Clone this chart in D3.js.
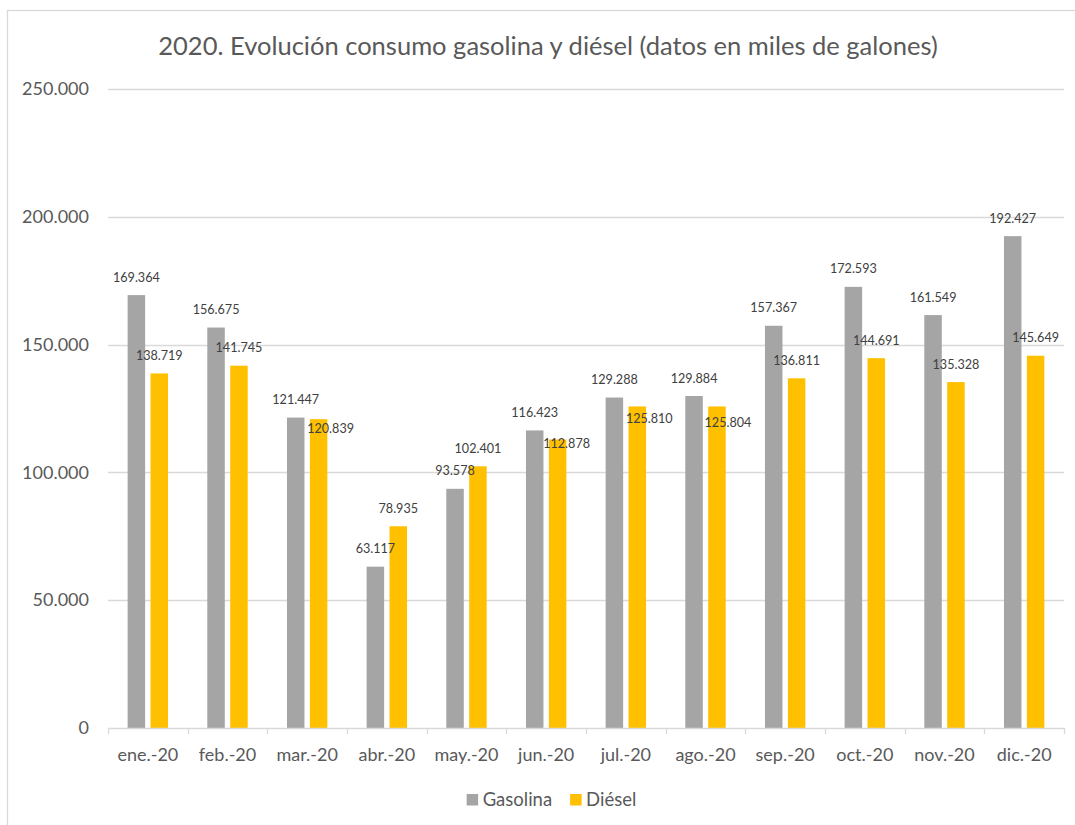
<!DOCTYPE html>
<html>
<head>
<meta charset="utf-8">
<script src="https://cdn.jsdelivr.net/npm/d3@7"></script>
<style>
  html, body { margin: 0; padding: 0; background: #fff; }
  svg { display: block; }
  text { font-family: Lato, "Noto Sans", sans-serif; }
</style>
</head>
<body>
<svg id="chart" width="1075" height="825"></svg>
<script>
// ---- data ----
const titleText = "2020. Evolución consumo gasolina y diésel (datos en miles de galones)";
const months = ["ene.-20","feb.-20","mar.-20","abr.-20","may.-20","jun.-20","jul.-20","ago.-20","sep.-20","oct.-20","nov.-20","dic.-20"];
const seriesNames = ["Gasolina", "Diésel"];
const gasolina = [169364,156675,121447,63117,93578,116423,129288,129884,157367,172593,161549,192427];
const diesel   = [138719,141745,120839,78935,102401,112878,125810,125804,136811,144691,135328,145649];
const yTicks = [0, 50000, 100000, 150000, 200000, 250000];
// label nudges (px) for Diesel data labels that Excel moved
const dieselLabelNudge = [[0,0],[0,0],[12,27],[0,0],[0,0],[9,22],[12,30],[11,34],[0,0],[0,0],[0,0],[0,0]];

const colors = {"Gasolina": "#A5A5A5", "Diésel": "#FFC000"};

const loc = d3.formatLocale({decimal: ",", thousands: ".", grouping: [3], currency: ["", ""]});
const fmt = loc.format(",.0f");

const svg = d3.select("#chart");

// chart border
svg.append("rect").attr("x", 7.5).attr("y", 10.5).attr("width", 1100).attr("height", 900)
  .attr("fill", "#fff").attr("stroke", "#D9D9D9").attr("stroke-width", 1.3);

const plotL = 108, plotR = 1064, plotT = 89, plotB = 728;

const x0 = d3.scaleBand().domain(months).range([plotL, plotR]).paddingInner(0).paddingOuter(0);
const x1 = d3.scaleBand().domain(seriesNames).range([0, x0.bandwidth()]).paddingInner(0.236).paddingOuter(0.857);
const y = d3.scaleLinear().domain([0, 250000]).range([plotB, plotT]);

// gridlines
svg.append("g").selectAll("line").data(yTicks.filter(d => d > 0)).join("line")
  .attr("x1", plotL).attr("x2", plotR)
  .attr("y1", d => Math.round(y(d)) + 0.5).attr("y2", d => Math.round(y(d)) + 0.5)
  .attr("stroke", "#D9D9D9").attr("stroke-width", 1.3);

// y axis labels
const yAxis = d3.axisLeft(y).tickValues(yTicks).tickFormat(fmt).tickSize(0).tickPadding(19);
const gy = svg.append("g").attr("transform", `translate(${plotL},0)`).call(yAxis);
gy.select(".domain").remove();
gy.selectAll("text").attr("fill", "#595959").style("font-size", "18px").attr("font-family", "Lato");

// bars
const data = months.map((m, i) => ({month: m, values: [
  {key: "Gasolina", value: gasolina[i], i},
  {key: "Diésel", value: diesel[i], i}
]}));

const groups = svg.append("g").selectAll("g").data(data).join("g")
  .attr("transform", d => `translate(${x0(d.month)},0)`);

groups.selectAll("rect").data(d => d.values).join("rect")
  .attr("x", d => x1(d.key))
  .attr("width", x1.bandwidth())
  .attr("y", d => y(d.value))
  .attr("height", d => y(0) - y(d.value))
  .attr("fill", d => colors[d.key]);

// x axis
const xAxis = d3.axisBottom(x0).tickSize(0).tickPadding(20);
const gx = svg.append("g").attr("transform", `translate(0,${plotB})`).call(xAxis);
gx.select(".domain").attr("stroke", "#D9D9D9").attr("stroke-width", 1.3).attr("d", `M${plotL},0.5H${plotR}`);
gx.selectAll("text").attr("fill", "#595959").style("font-size", "18px").attr("font-family", "Lato");
// category boundary ticks
gx.append("g").selectAll("line").data(months.concat(["__end"])).join("line")
  .attr("x1", (d, i) => Math.round(plotL + i * x0.step()) + 0.5)
  .attr("x2", (d, i) => Math.round(plotL + i * x0.step()) + 0.5)
  .attr("y1", 0).attr("y2", 6)
  .attr("stroke", "#D9D9D9").attr("stroke-width", 1.3);
gx.selectAll(".tick text").attr("dy", "0.72em");

// data labels
groups.selectAll("text.lbl").data(d => d.values).join("text")
  .attr("class", "lbl")
  .attr("x", d => x1(d.key) + x1.bandwidth() / 2 + (d.key === "Diésel" ? dieselLabelNudge[d.i][0] : 0))
  .attr("y", d => y(d.value) - 13.5 + (d.key === "Diésel" ? dieselLabelNudge[d.i][1] : 0))
  .attr("text-anchor", "middle")
  .attr("fill", "#404040")
  .style("font-size", "12.6px")
  .text(d => fmt(d.value));

// title (fit to measured width)
const title = svg.append("text").attr("x", 548).attr("y", 55).attr("text-anchor", "middle")
  .attr("fill", "#595959").style("font-size", "24px").text(titleText);
const tw = title.node().getComputedTextLength();
title.style("font-size", (24 * 780 / tw).toFixed(2) + "px");

// legend
const legend = svg.append("g");
let cx = 0;
seriesNames.forEach((s, i) => {
  const g = legend.append("g").attr("transform", `translate(${cx},0)`);
  g.append("rect").attr("x", 0).attr("y", -12).attr("width", 11.5).attr("height", 11.5).attr("fill", colors[s]);
  const t = g.append("text").attr("x", 16).attr("y", 0).attr("fill", "#595959").style("font-size", "18.5px").text(s);
  cx += 16 + t.node().getComputedTextLength() + 18;
});
const lw = cx - 18;
legend.attr("transform", `translate(${551.5 - lw / 2},806)`);
</script>
</body>
</html>
